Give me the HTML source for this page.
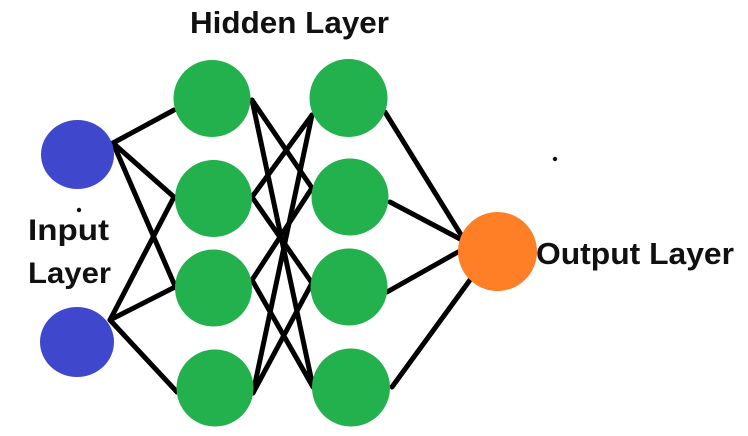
<!DOCTYPE html>
<html>
<head>
<meta charset="utf-8">
<style>
  html,body{margin:0;padding:0;background:#ffffff;}
  svg{display:block;}
  text{font-family:"Liberation Sans",Arial,sans-serif;font-weight:bold;fill:#111;}
</style>
</head>
<body>
<svg width="748" height="436" viewBox="0 0 748 436" xmlns="http://www.w3.org/2000/svg">
  <rect width="748" height="436" fill="#ffffff"/>
  <g stroke="#000" stroke-width="5" stroke-linecap="round" stroke-linejoin="round" fill="none">
    <!-- input 1 -->
    <line x1="113" y1="143" x2="174" y2="110"/>
    <line x1="113" y1="143" x2="174" y2="197"/>
    <line x1="113" y1="143" x2="175" y2="286"/>
    <!-- input 2 -->
    <line x1="110" y1="320" x2="174" y2="197"/>
    <line x1="110" y1="320" x2="175" y2="287"/>
    <line x1="110" y1="320" x2="177" y2="392"/>
    <!-- hidden1 -> hidden2 -->
    <line x1="252" y1="100" x2="312" y2="188"/>
    <line x1="252" y1="100" x2="313" y2="387"/>
    <line x1="252" y1="197" x2="312" y2="115"/>
    <line x1="252" y1="197" x2="312" y2="283"/>
    <line x1="252" y1="280" x2="312" y2="188"/>
    <line x1="252" y1="280" x2="313" y2="387"/>
    <line x1="253" y1="393" x2="312" y2="115"/>
    <line x1="253" y1="393" x2="312" y2="283"/>
    <!-- hidden2 -> output -->
    <line x1="385" y1="112" x2="463" y2="238"/>
    <line x1="390" y1="202" x2="462" y2="240"/>
    <line x1="387" y1="292" x2="458" y2="252"/>
    <line x1="392" y1="387" x2="470" y2="280"/>
  </g>
  <!-- input nodes -->
  <ellipse cx="77.5" cy="154.5" rx="36.5" ry="34.5" fill="#3f48cc"/>
  <ellipse cx="77" cy="342" rx="37" ry="35" fill="#3f48cc"/>
  <!-- hidden 1 -->
  <circle cx="212" cy="98.5" r="38.5" fill="#22b14c"/>
  <circle cx="213.5" cy="198.5" r="38.5" fill="#22b14c"/>
  <circle cx="213.5" cy="288" r="38.5" fill="#22b14c"/>
  <circle cx="215" cy="388" r="38.5" fill="#22b14c"/>
  <!-- hidden 2 -->
  <circle cx="348.5" cy="98" r="39" fill="#22b14c"/>
  <circle cx="350" cy="197" r="38.5" fill="#22b14c"/>
  <circle cx="349" cy="287" r="38.5" fill="#22b14c"/>
  <circle cx="351" cy="387.5" r="39" fill="#22b14c"/>
  <!-- output -->
  <circle cx="497.5" cy="251.5" r="39.5" fill="#ff7f27"/>
  <!-- dots -->
  <circle cx="79" cy="210" r="2.2" fill="#111"/>
  <circle cx="555" cy="159" r="2.2" fill="#111"/>
  <!-- labels -->
  <text x="190" y="33" font-size="31" textLength="199" lengthAdjust="spacingAndGlyphs">Hidden Layer</text>
  <text x="28" y="240" font-size="30" textLength="81" lengthAdjust="spacingAndGlyphs">Input</text>
  <text x="28" y="283" font-size="30" textLength="83" lengthAdjust="spacingAndGlyphs">Layer</text>
  <text x="536" y="264" font-size="31" textLength="198" lengthAdjust="spacingAndGlyphs">Output Layer</text>
</svg>
</body>
</html>
